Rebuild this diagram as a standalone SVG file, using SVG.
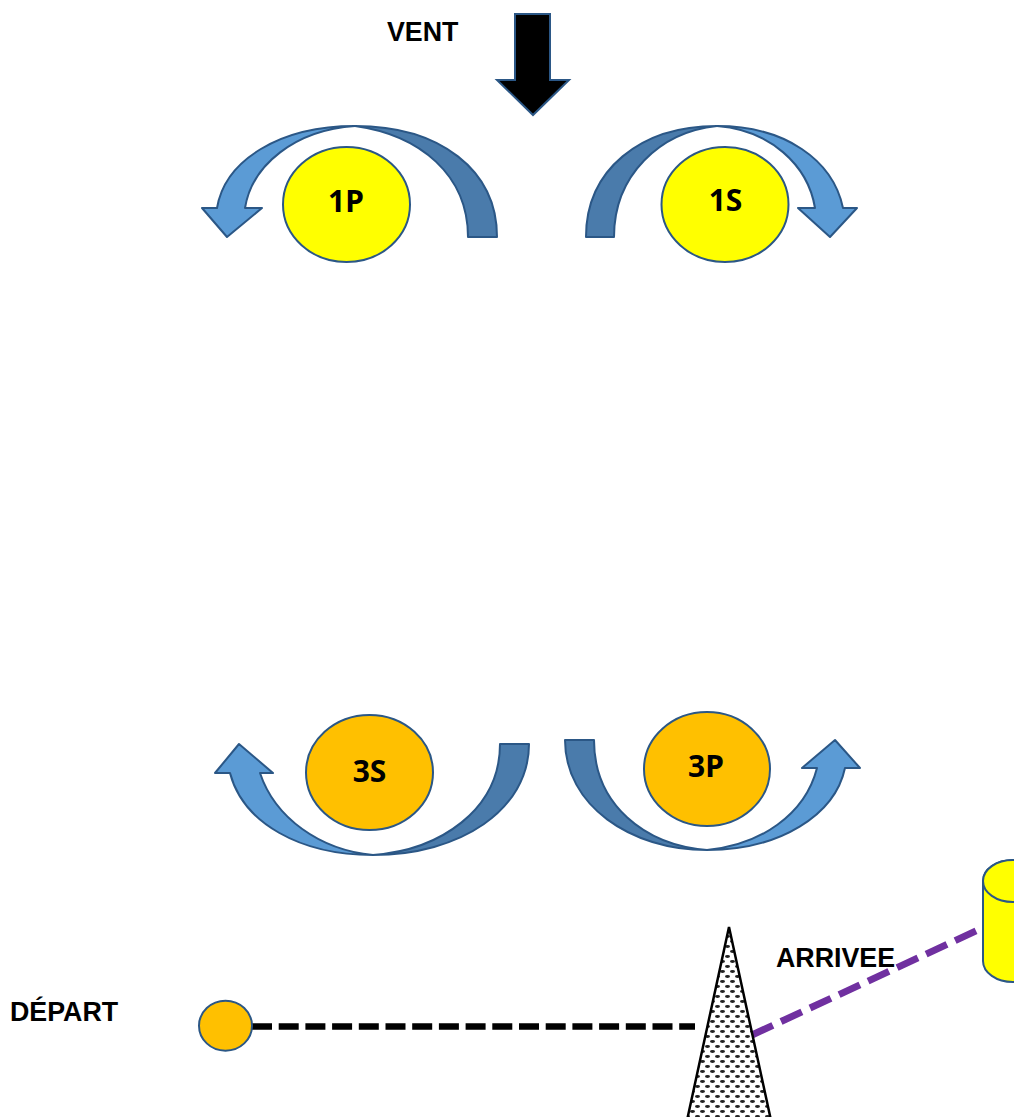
<svg xmlns="http://www.w3.org/2000/svg" width="1014" height="1117" viewBox="0 0 1014 1117">
<style>
.lbl{font-family:"Liberation Sans",Arial,sans-serif;font-weight:bold;font-size:26.8px;fill:#000}
.num{font-family:"Noto Sans","Open Sans",sans-serif;font-weight:bold;font-size:30px;fill:#000;text-anchor:middle}
.yel{fill:#ffff00;stroke:#2b5786;stroke-width:2}
.org{fill:#ffc000;stroke:#2b5786;stroke-width:2}
.lt{fill:#5b9bd5;stroke:#2b5786;stroke-width:2;stroke-linejoin:round}
.dk{fill:#4a7bab;stroke:#2b5786;stroke-width:2;stroke-linejoin:round}
</style>
<defs>
<pattern id="dots" width="10" height="10" patternUnits="userSpaceOnUse">
<rect width="10" height="10" fill="#fff"/>
<ellipse cx="2.5" cy="1.5" rx="2.5" ry="1.4" fill="#222"/>
<ellipse cx="7.5" cy="6.5" rx="2.5" ry="1.4" fill="#222"/>
</pattern>
</defs>
<rect width="1014" height="1117" fill="#fff"/>

<g id="vent">
<text class="lbl" x="387" y="41">VENT</text>
<path d="M515,14 L550,14 L550,80 L569,80 L533,115 L497,80 L515,80 Z" fill="#000" stroke="#2b5786" stroke-width="2"/>
</g>

<g id="arrow-1P">
<path class="lt" d="M217,208 C225,160 280,126 355,126 C295,130 252,165 245,208 L262,208 L227,237 L202,208 Z"/>
<path class="dk" d="M497,237 C497,170 440,126 355,126 C420,135 468,175 468,237 Z"/>
</g>
<g id="node-1P">
<ellipse class="yel" cx="346.5" cy="204.5" rx="63.5" ry="57.5"/>
<text class="num" x="346" y="212">1P</text>
</g>

<g id="arrow-1S">
<path class="lt" d="M717,126 C785,126 833,160 843,208 L857,208 L830,237 L798,208 L815,208 C808,165 770,130 717,126 Z"/>
<path class="dk" d="M586,237 C586,170 640,126 717,126 C660,132 614,175 614,237 Z"/>
</g>
<g id="node-1S">
<ellipse class="yel" cx="725" cy="204.5" rx="63.5" ry="57.5"/>
<text class="num" x="725.5" y="211">1S</text>
</g>

<g id="arrow-3S">
<path class="lt" d="M373,855 C300,855 243,823 230,773 L215,773 L239,744 L273,773 L260,773 C275,818 320,850 373,855 Z"/>
<path class="dk" d="M529,744 C529,810 460,855 373,855 C440,850 500,810 500,744 Z"/>
</g>
<g id="node-3S">
<ellipse class="org" cx="369.5" cy="772.5" rx="63.5" ry="57.5"/>
<text class="num" x="369.5" y="782">3S</text>
</g>

<g id="arrow-3P">
<path class="lt" d="M707,850 C780,850 835,815 845,768 L860,768 L835,740 L802,768 L817,768 C805,815 760,845 707,850 Z"/>
<path class="dk" d="M565,740 C565,805 630,850 707,850 C645,845 594,805 594,740 Z"/>
</g>
<g id="node-3P">
<ellipse class="org" cx="707" cy="769" rx="63" ry="57"/>
<text class="num" x="706" y="777">3P</text>
</g>

<g id="connectors">
<line x1="252" y1="1026.5" x2="695" y2="1026.5" stroke="#000" stroke-width="6.5" stroke-dasharray="20,6.7"/>
<line x1="752" y1="1035" x2="978" y2="930" stroke="#7030a0" stroke-width="7" stroke-dasharray="23,9"/>
</g>

<g id="depart">
<text class="lbl" x="10" y="1021">DÉPART</text>
<ellipse class="org" cx="225.5" cy="1025.7" rx="26.5" ry="25"/>
</g>

<g id="mark">
<polygon points="729,927 686,1125 772,1125" fill="url(#dots)" stroke="#000" stroke-width="2.5" stroke-linejoin="miter"/>
</g>

<g id="arrivee">
<text class="lbl" x="776" y="967">ARRIVEE</text>
</g>

<g id="cylinder">
<path class="yel" d="M983,881 L983,961 A30,21 0 0 0 1043,961 L1043,881 A30,21 0 0 0 983,881 Z"/>
<ellipse class="yel" cx="1013" cy="881" rx="30" ry="21"/>
</g>
</svg>
